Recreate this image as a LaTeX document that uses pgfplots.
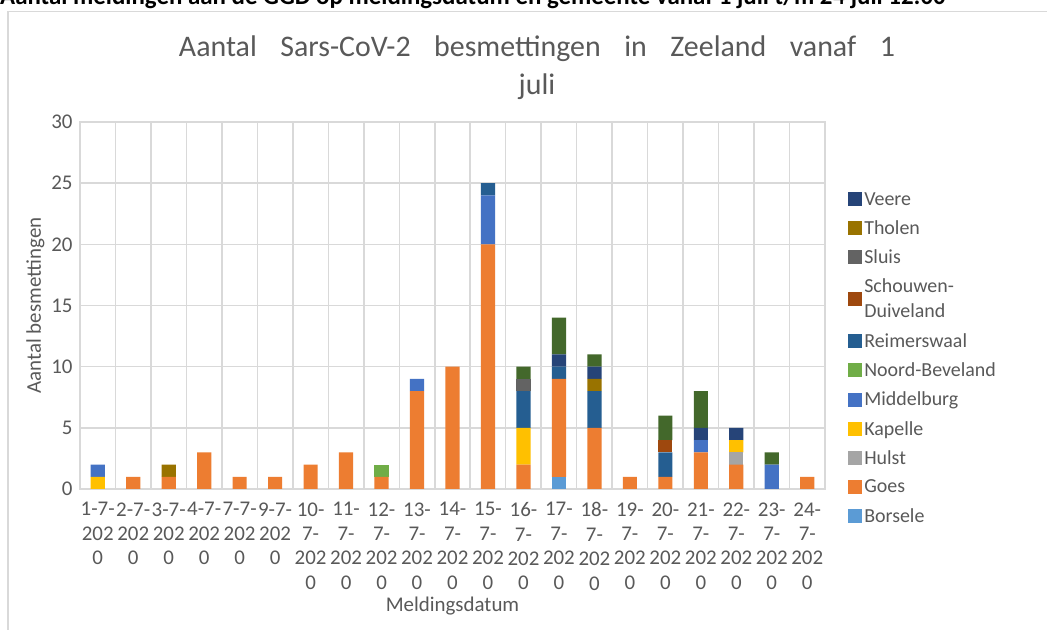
\documentclass[border=0pt]{standalone}
\usepackage{fontspec}
\setmainfont{Carlito}
\usepackage{pgfplots}
\pgfplotsset{compat=1.18}
\usepackage{pgfplotstable}
\definecolor{tgray}{HTML}{595959}
\definecolor{gridgray}{HTML}{D9D9D9}
\definecolor{cBo}{HTML}{5B9BD5}
\definecolor{cGo}{HTML}{ED7D31}
\definecolor{cHu}{HTML}{A5A5A5}
\definecolor{cKa}{HTML}{FFC000}
\definecolor{cMi}{HTML}{4472C4}
\definecolor{cNB}{HTML}{70AD47}
\definecolor{cRe}{HTML}{255E91}
\definecolor{cSD}{HTML}{9E480E}
\definecolor{cSl}{HTML}{636363}
\definecolor{cTh}{HTML}{997300}
\definecolor{cVe}{HTML}{264478}
\definecolor{cVl}{HTML}{43682B}
\pgfplotstableread{
x  Bo Go Hu Ka Mi NB Re SD Sl Th Ve Vl
0  0  0  0  1  1  0  0  0  0  0  0  0
1  0  1  0  0  0  0  0  0  0  0  0  0
2  0  1  0  0  0  0  0  0  0  1  0  0
3  0  3  0  0  0  0  0  0  0  0  0  0
4  0  1  0  0  0  0  0  0  0  0  0  0
5  0  1  0  0  0  0  0  0  0  0  0  0
6  0  2  0  0  0  0  0  0  0  0  0  0
7  0  3  0  0  0  0  0  0  0  0  0  0
8  0  1  0  0  0  1  0  0  0  0  0  0
9  0  8  0  0  1  0  0  0  0  0  0  0
10 0  10 0  0  0  0  0  0  0  0  0  0
11 0  20 0  0  4  0  1  0  0  0  0  0
12 0  2  0  3  0  0  3  0  1  0  0  1
13 1  8  0  0  0  0  1  0  0  0  1  3
14 0  5  0  0  0  0  3  0  0  1  1  1
15 0  1  0  0  0  0  0  0  0  0  0  0
16 0  1  0  0  0  0  2  1  0  0  0  2
17 0  3  0  0  1  0  0  0  0  0  1  3
18 0  2  1  1  0  0  0  0  0  0  1  0
19 0  0  0  0  2  0  0  0  0  0  0  1
20 0  1  0  0  0  0  0  0  0  0  0  0
}\datatable
\begin{document}
\begin{tikzpicture}[x=1bp,y=1bp]
\useasboundingbox (0,0) rectangle (1047,630);
\fill[white] (0,0) rectangle (1047,630);
\draw[gridgray, line width=1.2bp] (8,-5) |- (1060,618.3);
\node[anchor=base west, font=\bfseries\fontsize{25}{30}\selectfont, inner sep=0] at (0,625) {Aantal meldingen aan de GGD op meldingsdatum en gemeente vanaf 1 juli t/m 24 juli 12:00};
\node[font=\fontsize{30}{38}\selectfont, text=tgray, align=center] at (537,562) {\makebox[716bp][s]{Aantal Sars-CoV-2 besmettingen in Zeeland vanaf 1}\\juli};
\begin{axis}[
  at={(80bp,141bp)}, anchor=south west,
  width=745bp, height=367bp, scale only axis,
  ybar stacked, bar width=0.4,
  xmin=-0.5, xmax=20.5, ymin=0, ymax=30,
  ytick={0,5,...,30},
  xtick={0,...,20},
  xticklabels={{1-7-\\202\\0},{2-7-\\202\\0},{3-7-\\202\\0},{4-7-\\202\\0},{7-7-\\202\\0},{9-7-\\202\\0},
    {10-\\7-\\202\\0},{11-\\7-\\202\\0},{12-\\7-\\202\\0},{13-\\7-\\202\\0},{14-\\7-\\202\\0},{15-\\7-\\202\\0},
    {16-\\7-\\202\\0},{17-\\7-\\202\\0},{18-\\7-\\202\\0},{19-\\7-\\202\\0},{20-\\7-\\202\\0},{21-\\7-\\202\\0},
    {22-\\7-\\202\\0},{23-\\7-\\202\\0},{24-\\7-\\202\\0}},
  minor xtick={-0.5,0.5,...,20.5},
  xminorgrids, ymajorgrids,
  grid style={gridgray, line width=1.5bp},
  minor grid style={gridgray, line width=1.5bp},
  axis line style={gridgray, line width=1.5bp},
  major tick length=0pt, minor tick length=0pt,
  xticklabel style={align=center, font=\fontsize{21}{24.5}\selectfont, text=tgray, yshift=-10bp},
  yticklabel style={font=\fontsize{21}{24}\selectfont, text=tgray, xshift=-4bp},
  /pgf/number format/assume math mode=true,
  xlabel={Meldingsdatum}, ylabel={Aantal besmettingen},
  xlabel style={font=\fontsize{21}{24}\selectfont, text=tgray},
  ylabel style={font=\fontsize{21}{24}\selectfont, text=tgray},
  legend style={at={(1.027,0.82)}, anchor=north west, draw=none, fill=none,
    font=\fontsize{20}{25}\selectfont, text=tgray, nodes={align=left}, row sep=10bp},
  legend cell align=left,
  reverse legend,
  legend image code/.code={\fill[#1] (0bp,-7bp) rectangle (14bp,7bp);},
]
\addplot[fill=cBo, draw=none] table[x=x,y=Bo]{\datatable};
\addlegendentry{Borsele}
\addplot[fill=cGo, draw=none] table[x=x,y=Go]{\datatable};
\addlegendentry{Goes}
\addplot[fill=cHu, draw=none] table[x=x,y=Hu]{\datatable};
\addlegendentry{Hulst}
\addplot[fill=cKa, draw=none] table[x=x,y=Ka]{\datatable};
\addlegendentry{Kapelle}
\addplot[fill=cMi, draw=none] table[x=x,y=Mi]{\datatable};
\addlegendentry{Middelburg}
\addplot[fill=cNB, draw=none] table[x=x,y=NB]{\datatable};
\addlegendentry{Noord-Beveland}
\addplot[fill=cRe, draw=none] table[x=x,y=Re]{\datatable};
\addlegendentry{Reimerswaal}
\addplot[fill=cSD, draw=none] table[x=x,y=SD]{\datatable};
\addlegendentry{Schouwen-\\Duiveland}
\addplot[fill=cSl, draw=none] table[x=x,y=Sl]{\datatable};
\addlegendentry{Sluis}
\addplot[fill=cTh, draw=none] table[x=x,y=Th]{\datatable};
\addlegendentry{Tholen}
\addplot[fill=cVe, draw=none] table[x=x,y=Ve]{\datatable};
\addlegendentry{Veere}
\addplot[fill=cVl, draw=none, forget plot] table[x=x,y=Vl]{\datatable};
\end{axis}
\end{tikzpicture}
\end{document}
